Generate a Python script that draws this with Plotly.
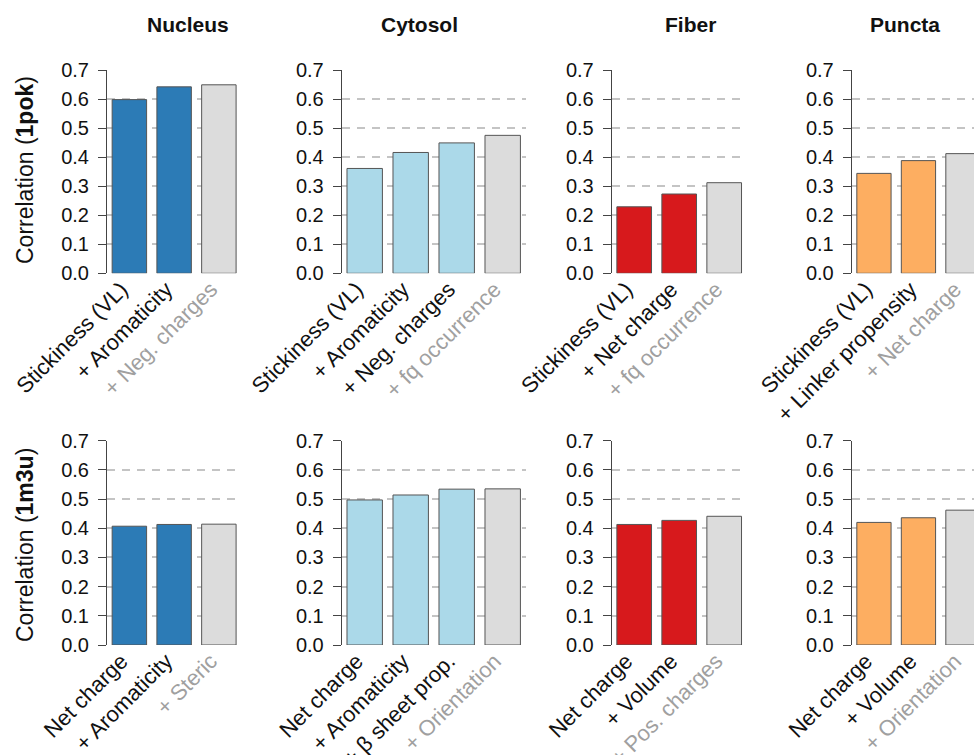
import plotly.graph_objects as go

W, H = 974, 755

# ---------------- data ----------------
compartments = ["Nucleus", "Cytosol", "Fiber", "Puncta"]
bar_colors = ["#2c7bb6", "#abd9e9", "#d7191c", "#fdae61"]
gray_bar = "#dcdcdc"

nucleus_1pok_labels = ["Stickiness (VL)", "+ Aromaticity", "+ Neg. charges"]
nucleus_1pok_values = [0.598, 0.642, 0.649]
cytosol_1pok_labels = ["Stickiness (VL)", "+ Aromaticity", "+ Neg. charges", "+ fq occurrence"]
cytosol_1pok_values = [0.361, 0.416, 0.449, 0.475]
fiber_1pok_labels = ["Stickiness (VL)", "+ Net charge", "+ fq occurrence"]
fiber_1pok_values = [0.229, 0.273, 0.312]
puncta_1pok_labels = ["Stickiness (VL)", "+ Linker propensity", "+ Net charge"]
puncta_1pok_values = [0.344, 0.388, 0.412]

nucleus_1m3u_labels = ["Net charge", "+ Aromaticity", "+ Steric"]
nucleus_1m3u_values = [0.407, 0.413, 0.414]
cytosol_1m3u_labels = ["Net charge", "+ Aromaticity", "+ β sheet prop.", "+ Orientation"]
cytosol_1m3u_values = [0.497, 0.514, 0.534, 0.535]
fiber_1m3u_labels = ["Net charge", "+ Volume", "+ Pos. charges"]
fiber_1m3u_values = [0.413, 0.427, 0.441]
puncta_1m3u_labels = ["Net charge", "+ Volume", "+ Orientation"]
puncta_1m3u_values = [0.420, 0.436, 0.462]

row_names = ["1pok", "1m3u"]
y_ticks = [0.0, 0.1, 0.2, 0.3, 0.4, 0.5, 0.6, 0.7]

panels = [
    [(nucleus_1pok_labels, nucleus_1pok_values), (cytosol_1pok_labels, cytosol_1pok_values),
     (fiber_1pok_labels, fiber_1pok_values), (puncta_1pok_labels, puncta_1pok_values)],
    [(nucleus_1m3u_labels, nucleus_1m3u_values), (cytosol_1m3u_labels, cytosol_1m3u_values),
     (fiber_1m3u_labels, fiber_1m3u_values), (puncta_1m3u_labels, puncta_1m3u_values)],
]

# ---------------- layout constants (pixels) ----------------
col_x0 = [107, 341.7, 611.7, 851.7]
col_pitch = [44.75, 46, 45, 44.5]
row_top = [70, 440.7]
row_bot = [273.3, 645]
title_x = [188, 419, 690, 905]
ytitle_y = [170, 545]

FONT = "Liberation Sans, Arial, Helvetica, sans-serif"
label_gray = "#a0a0a0"

fig = go.Figure()
layout = dict(
    width=W, height=H,
    margin=dict(l=0, r=0, t=0, b=0),
    paper_bgcolor="white", plot_bgcolor="white",
    showlegend=False,
    font=dict(family=FONT, size=20, color="#111"),
    annotations=[],
)

k = 0
for r in range(2):
    for c in range(4):
        k += 1
        labels, values = panels[r][c]
        n = len(labels)
        xa = "x" if k == 1 else f"x{k}"
        ya = "y" if k == 1 else f"y{k}"
        colors = [bar_colors[c]] * (n - 1) + [gray_bar]
        fig.add_trace(go.Bar(
            x=list(range(n)), y=values, xaxis=xa, yaxis=ya,
            marker=dict(color=colors, line=dict(color="#555555", width=1)),
            width=0.77, hoverinfo="skip",
        ))
        x0 = col_x0[c]
        x1 = min(x0 + n * col_pitch[c], W)
        xmax = -0.5 + (x1 - x0) / col_pitch[c]
        ticktext = labels[:-1] + [f'<span style="color:{label_gray}">{labels[-1]}</span>']
        layout["xaxis" if k == 1 else f"xaxis{k}"] = dict(
            domain=[x0 / W, x1 / W], range=[-0.5, xmax], anchor=ya,
            tickmode="array", tickvals=list(range(n)), ticktext=ticktext,
            tickangle=-45, ticks="", showline=False, showgrid=False, zeroline=False,
            tickfont=dict(size=22, color="#111", family=FONT),
            ticklabelshift=-8, ticklabelstandoff=-2,
            automargin=False, fixedrange=True,
        )
        layout["yaxis" if k == 1 else f"yaxis{k}"] = dict(
            domain=[1 - row_bot[r] / H, 1 - row_top[r] / H], range=[0, 0.7], anchor=xa,
            tickmode="array", tickvals=y_ticks, ticktext=[f"{v:.1f}" for v in y_ticks],
            ticks="outside", ticklen=8, tickcolor="#444", tickwidth=1,
            showline=True, linecolor="#444", linewidth=1,
            showgrid=True, gridcolor="#c4c4c4", gridwidth=1.5, griddash="8px,7px",
            zeroline=False, tickfont=dict(size=20, color="#111", family=FONT),
            ticklabelstandoff=5,
            automargin=False, fixedrange=True,
        )

for c in range(4):
    layout["annotations"].append(dict(
        text=f"<b>{compartments[c]}</b>", x=title_x[c] / W, y=1 - 25 / H,
        xref="paper", yref="paper", showarrow=False, xanchor="center", yanchor="middle",
        font=dict(size=21, color="#111", family=FONT),
    ))
for r in range(2):
    layout["annotations"].append(dict(
        text=f"Correlation (<b>{row_names[r]}</b>)", x=25 / W, y=1 - ytitle_y[r] / H,
        xref="paper", yref="paper", showarrow=False, xanchor="center", yanchor="middle",
        textangle=-90, font=dict(size=23, color="#111", family=FONT),
    ))

fig.update_layout(**layout)
fig.write_html("out.html", config={"displayModeBar": False},
               post_script="document.body.style.margin='0';")
